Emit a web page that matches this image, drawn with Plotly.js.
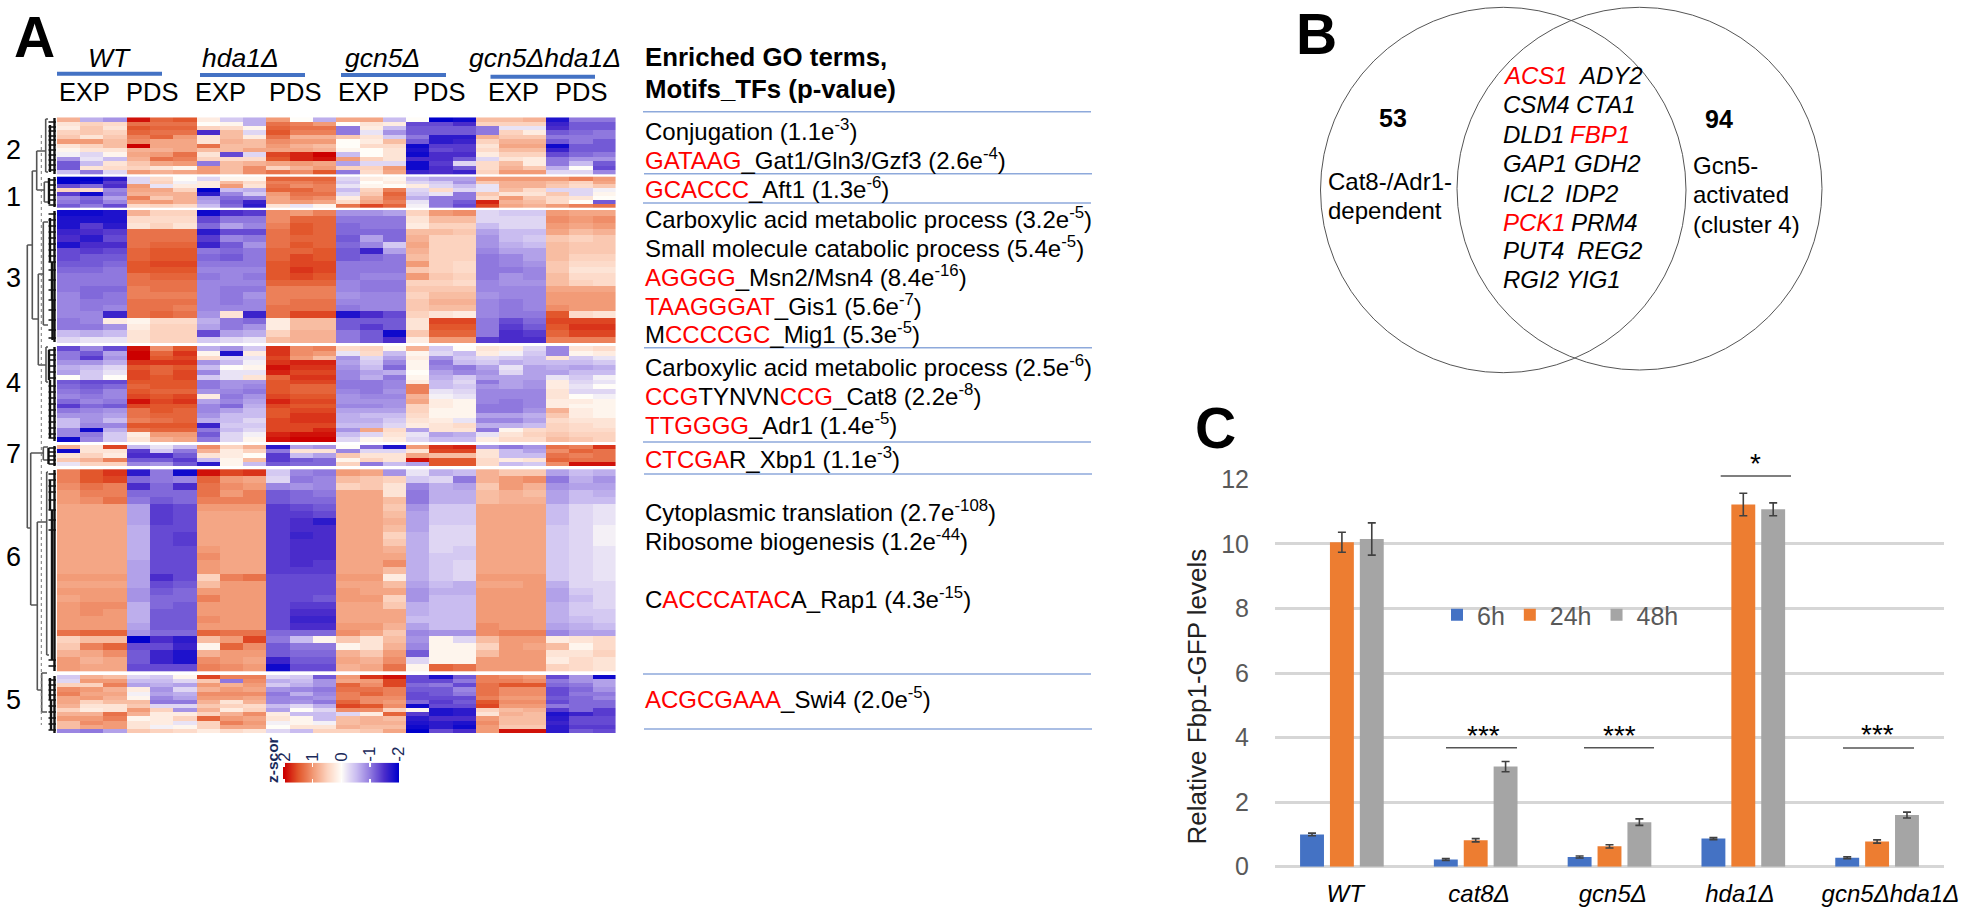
<!DOCTYPE html>
<html><head><meta charset="utf-8">
<script src="https://cdn.plot.ly/plotly-3.0.1.min.js"></script>
<style>html,body{margin:0;padding:0;background:#fff;overflow:hidden}#g{width:1965px;height:908px}</style>
</head><body><div id="g"></div>
<script>
// ---------- Panel C data ----------
const categories = ['WT','cat8Δ','gcn5Δ','hda1Δ','gcn5Δhda1Δ'];
const categoryLabels = ['\u00a0WT','\u00a0cat8Δ','\u00a0gcn5Δ','hda1Δ\u00a0','\u00a0\u00a0\u00a0\u00a0gcn5Δhda1Δ'];
const h6  = [1.0,0.22,0.30,0.87,0.28];
const h24 = [10.05,0.82,0.63,11.22,0.78];
const h48 = [10.15,3.10,1.38,11.07,1.60];
const h6err  = [0.04,0.03,0.03,0.03,0.03];
const h24err = [0.31,0.05,0.05,0.35,0.05];
const h48err = [0.50,0.16,0.10,0.20,0.09];

// ---------- Panel A heatmap data: z-scores by cluster, 24 columns ----------
const columns = ['WT EXP1','WT EXP2','WT EXP3','WT PDS1','WT PDS2','WT PDS3','hda1 EXP1','hda1 EXP2','hda1 EXP3','hda1 PDS1','hda1 PDS2','hda1 PDS3','gcn5 EXP1','gcn5 EXP2','gcn5 EXP3','gcn5 PDS1','gcn5 PDS2','gcn5 PDS3','dbl EXP1','dbl EXP2','dbl EXP3','dbl PDS1','dbl PDS2','dbl PDS3'];
const cluster2 = [
[.8,-.6,-.8,1.9,1.4,1.5,.2,-.4,-.6,1,0,-.6,.9,.9,-.5,0,-2,-1.9,.7,.7,.8,-1.8,-1,-1],
[.3,.5,.4,1.3,1.3,1.3,0,.1,-.6,1.3,1.2,1,0,.3,.2,-1.3,-1.3,-1.5,.5,.5,.5,-1.6,-1.2,-1.2],
[.2,.6,.3,1.5,1.4,1.4,.5,.4,.1,1.4,1.3,1.3,-1,.2,-.5,-1.2,-1.2,-1.2,-1,-.2,-.2,-1.5,-1.2,-1.2],
[.5,.6,.5,1.4,1.3,1.3,-1.5,.7,-.3,1.5,1.2,1.2,-1,-.2,-.8,-1.2,-1.2,-1.2,-1,.5,.2,-1.2,-1.1,-1],
[.6,.3,.6,1.2,1.4,1,.3,.7,.2,1.3,.8,.8,.6,.3,-.4,-1,-1.7,-1.7,.8,.6,.6,-1,-1,-1],
[1,1,.7,1.1,.9,.9,.3,.8,.7,1.1,1,1,0,.2,.7,-1.2,-1.7,-1.6,.5,.8,.8,-1.2,-1,-1.2],
[.3,.5,.7,2,.9,.9,1.3,.7,.7,1,.8,.7,0,.4,.4,-1.9,-1.4,-1.4,.3,.9,.9,-1.9,-1.2,-1.2],
[.1,.3,.3,.8,.8,.9,.7,.7,.9,.9,.9,.8,.1,0,.3,-1.8,-1.3,-1.4,.4,.7,.7,-1.6,-1.2,-1.2],
[-.1,-.3,.1,.9,1,1.3,.3,-1.3,-.3,1.6,1.8,2,-.5,0,.3,-1.9,-1.5,-1.5,.2,.5,.5,-1.3,-1.1,-1],
[-.8,-.2,-.5,.8,1.3,1.2,.5,.4,.4,1.5,1.8,1.9,1,.5,.3,-1.5,-1.5,-1.2,-.3,.3,.2,-1,-.8,-.8],
[-1.2,-.5,.3,.6,.9,1,-1,.7,.8,.9,1,.9,-.7,-.3,-.3,-1.9,-1.4,-.3,.4,.7,.2,-1,-.5,-1.2],
[-1.2,.3,.4,.5,.3,.1,1,.7,1.1,.5,.8,1,.5,.5,1,-1.9,-1.5,-1.2,.4,.8,.6,-.6,0,-1.3],
[-.5,-1,-.3,1,.8,.9,1,.7,1.1,1.3,1.1,1.5,-1,.4,.9,-1.6,-1.5,-1.6,.5,1,1,-.3,-.3,-.9]];
const cluster1 = [
[-2,-2,-1.7,-.3,.4,0,-.3,.1,.1,1.4,1.4,1.4,-.3,.2,.1,-.5,-.7,-.7,1,1,1,1,1.2,1],
[-2,-1.9,-1.4,-.3,.5,-.1,.2,.7,.4,1.2,1.2,1.3,-.4,0,.2,-.3,-.4,-.8,.6,.8,.8,.7,.5,.9],
[-1.3,-1.1,-1.5,1,-.2,.2,.2,1,.3,1.3,1.1,1.2,-.2,.1,0,.2,-.3,-.5,-.2,.8,.8,.6,.4,.6],
[.5,.4,-.9,.9,.9,.5,-2,-.5,-.6,1.4,1.4,1.2,-.5,.5,1.2,-.3,.4,-.3,-.2,.7,.4,-.3,-.3,-.1],
[-1.4,-1.9,-1,.8,.8,.8,-1.7,-.9,-.4,1,1.3,1.3,-.3,.6,1.4,-.4,-.2,-1,.6,.3,.3,.6,-.3,.1],
[-.9,-1.1,-.7,1.2,.6,.8,-.8,-1.1,-1,.9,1.2,1.1,.2,.8,1.3,-.6,-1,-1,.4,1,.6,.4,.3,0],
[-1,-1.2,-.9,.9,1,.8,-.7,-1.2,-1.6,.9,1,.9,.4,.9,1.2,-.2,-1,-1.2,1.8,.8,.7,.4,0,-1.2],
[-1.2,-1,-1.3,.4,.5,.4,-.5,-1.1,-1.7,.3,-.2,.1,1.3,1.6,1.4,-.1,-1,-1.3,1.6,.9,.8,1,1.2,1.3]];
const cluster3 = [
[-1.9,-1.9,-1.8,.8,.5,.5,-1.9,-1.5,-1.4,1.1,1,1.2,-.8,-.8,-.7,.5,1,1.1,-.3,-.4,-.4,1,.9,.9],
[-1.8,-1.8,-1.8,.4,.4,.4,-1.3,-1,-1,1.1,1.4,1.4,-1,-1,-1,.3,.7,.7,-.3,-.3,-.3,1.1,1,1.1],
[-1.8,-1.4,-1.7,.3,.5,.3,-1.1,-.7,-.9,1.2,1.5,1.4,-1.1,-1,-1,.2,.5,.5,-.5,-.3,-.3,1,.9,1],
[-1.6,-1.5,-1.4,1.3,1.3,1.3,-1.7,-1.3,-1.3,1.3,1.5,1.4,-1.1,-1.1,-1.1,.7,.7,.6,-.7,-.5,-.5,.9,.7,.8],
[-1.5,-1.7,-1.3,1.3,1.3,1.3,-1.4,-.9,-1,1.3,1.4,1.4,-1.2,-.7,-1.1,.8,.5,.5,-.8,-.5,-.4,.6,.5,.6],
[-1.8,-1.5,-1.5,1.3,1.4,1.4,-1.6,-1.2,-.8,1.3,1.5,1.4,-1.1,-.9,-.4,.9,.5,.5,-.8,-.6,-.5,.7,.6,.6],
[-1.3,-1.4,-1.3,1.4,1.5,1.5,-1,-1.1,-1,1.4,1.4,1.5,-1.2,-1.6,-.7,.8,.5,.5,-.9,-.7,-.7,.7,.6,.6],
[-1.3,-1.2,-1.2,1.4,1.5,1.5,-1.1,-1.2,-1,1.4,1.6,1.5,-1.2,-1.1,-1,.7,.5,.5,-1,-.9,-.7,.7,.5,.5],
[-1.2,-1.2,-1.1,1.5,1.6,1.6,-1,-1,-1,1.5,1.6,1.6,-1,-1,-1,1,.5,.4,-1,-.9,-.8,.6,.4,.4],
[-1.1,-1.1,-1,1.5,1.5,1.5,-.9,-.9,-.9,1.5,1.7,1.6,-1,-1,-1,.6,.5,.4,-1,-1,-.9,.6,.3,.3],
[-1,-1,-1,1.3,1.4,1.4,-1,-.9,-1,1.5,1.6,1.5,-1,-.9,-.9,1,.6,.5,-1,-.8,-.9,.7,.4,.4],
[-1,-1,-1,1.3,1.3,1.3,-.9,-.9,-.9,1.4,1.4,1.4,-.9,-1,-1,.5,.5,.4,-.9,-.8,-.8,.7,.5,.4],
[-1,-1.1,-1.1,1.2,1.3,1.3,-.9,-1,-1,1.2,1.2,1.2,-.9,-1,-1,.6,.6,.6,-.9,-.9,-.9,.9,.9,.9],
[-.9,-1.1,-1,1.2,1.2,1.2,-.9,-1,-.8,1.2,1.2,1.2,-.8,-.9,-.9,.5,.7,.7,-.8,-.9,-.9,1,1,1],
[-.9,-1,-1,1.3,1.3,1.3,-.9,-1,-.9,1.2,1.3,1.3,-.9,-.9,-.9,.6,.8,.8,-.9,-1,-.9,1,1,1],
[-.9,-1,-.9,1.3,1.3,1.2,-.9,-.9,-.9,1.3,1.3,1.3,-1,-.9,-.9,.6,.7,.7,-.9,-1,-.9,1.1,1,1],
[-.9,-.9,-1.6,1.3,1.4,1.3,-.8,.3,-1.6,1.3,1.6,1.6,-1.8,-1.5,-1.3,.5,.3,.2,-.9,-1,-1,1.5,.4,.3],
[-1,-.9,.2,.1,.4,.4,-.6,-1,-1.1,.2,.7,.7,-1.2,-1.2,-1.2,.3,1.6,1.6,-1,-1.3,-1.1,1.6,1.6,1.6],
[-1,-1,-.8,.2,.5,.5,-.7,-1,-.8,.2,.7,.7,-1.2,-1.4,-1.2,.3,1.5,1.5,-1,-1.4,-1.2,1.5,1.7,1.7],
[-.5,-.6,-.5,.3,.5,.5,-1.3,-.7,-.6,.5,.8,.8,-1,-1.2,-1.9,.6,1.4,1.4,-1,-1.5,-1.4,1.4,1.6,1.6],
[-.3,-.2,-.2,.3,.5,.5,-.4,-.3,-.2,.7,.8,.8,-1,-1.2,-1.5,.2,1,1,-1.4,-1.5,-1.5,1.2,1.2,1.2]];
const cluster4 = [
[-1.3,-.9,-1.3,1.9,1.1,1.5,-.6,-.8,-.4,1.7,1.1,1.2,.4,.5,.1,.8,-.4,0,.3,.2,-.3,-.9,.3,.4],
[-1,-1.2,-.7,2,1.4,1.7,.1,-1.8,.2,1.7,1.1,1,-.2,.4,-.5,.1,-.3,-.5,.2,-.1,-.4,-.9,.1,.2],
[-1,-1.4,-.8,2,1.5,1.6,.4,-.3,-.2,1.6,1,.7,-.8,-.3,-.7,.2,-.8,-.4,-.3,-.4,-.5,.3,-.4,-.2],
[-.8,-.8,-.6,1.7,1.7,1.7,-.8,-.5,-.1,1.7,1.8,1.8,-.7,-.4,-.9,.1,-1,-.5,-.4,-.6,-.5,-.5,-.5,-.4],
[-.6,-.5,-.3,1.5,1.4,1.5,-.5,0,.1,1.9,1.7,1.7,-.8,-.5,-1.1,.1,-.9,-1,-.7,-.2,-.7,-.6,-.7,-.6],
[-.7,-.4,-.2,1.6,1.4,1.6,-.9,-.2,-.2,1.8,1.6,1.6,-.9,-.7,-.6,0,-.7,-.9,-.8,-.3,-.7,-.7,-.5,-.5],
[0,-.4,0,1.6,1.5,1.6,-.4,-.2,.3,1.4,1.7,1.7,-.9,-.6,-1,.1,-.6,-.4,-.7,-.7,-.7,-.2,-.4,-.1],
[-1.2,-1.3,-1.3,1.5,1.5,1.5,-1,-.8,-.8,1.5,1.6,1.6,-1,-1,-.9,.2,-.5,-.3,-1,-.7,-.8,.2,-.3,-.2],
[-1.1,-1.2,-1.1,1.4,1.5,1.5,-1,-.8,-.9,1.5,1.4,1.4,-1,-1,-.9,1.2,-.5,-.4,-.8,-.7,-.8,.2,-.2,0],
[-1,-1.1,-.9,1.5,1.4,1.4,-.8,-.9,-1,1.5,1.4,1.4,-.9,-1,-.8,1.2,-.2,-.3,-.9,-.9,-.9,.3,-.3,-.3],
[-.9,-1,-.9,1.6,1.5,1.6,.2,-1,-.8,1.6,1.5,1.5,-.8,-.9,-.9,.8,-.1,-.2,-.9,-.9,-.9,.3,0,-.1],
[-1.1,-.9,-1,1.9,1.6,1.7,-.7,-.9,-.7,1.8,1.6,1.6,-.8,-.8,-.8,.9,.2,.1,-.9,-1,-.9,.2,.2,.1],
[-1.4,-1.1,-1.2,1.6,1.5,1.5,-.9,-1.1,-.6,1.6,1.5,1.5,-.9,-.9,-.8,.5,.2,.1,-1,-1,-.9,.2,.1,.1],
[-1,-.9,-.8,1.3,1.5,1.4,-.9,-.7,-.5,1.5,1.6,1.6,-.7,-.7,-.7,.5,.1,.1,-1,-1,-.8,.8,.2,.1],
[-.8,-.8,-.7,1.3,1.4,1.4,-.8,-.5,-.5,1.5,1.7,1.7,-.6,-.5,-.5,.4,.1,.1,-.7,-.7,-.6,.6,.2,.1],
[-.5,-.8,-.5,1.2,1.3,1.4,-.6,-.5,-.3,1.6,1.7,1.7,-.6,-.6,-.4,.3,.2,-.2,-.9,-.9,-.7,.4,.3,.3],
[-.5,-.9,-.9,1.5,1.5,1.5,-1.6,-.4,-.4,1.6,1.6,1.6,-.5,-.5,-.3,.2,.3,.4,-.6,-.6,-.5,.5,.4,.3],
[-.9,-1.9,-.6,1.3,1.4,1.4,-1,-.5,-.3,1.6,1.6,1.8,-.8,.9,.4,-.7,.3,.3,-1,.1,.4,.5,.4,.4],
[-.9,-1,-.4,.2,1,1,-1.2,-.3,-.1,1.8,1.9,1.9,-.5,-.3,.3,-.2,-.7,-.6,-.2,.3,.5,.6,.5,.5],
[-1.9,-.9,-.4,.3,.8,.9,-1,-.3,.1,1.9,2,2,-.3,.1,.2,-.3,-.5,-.5,.2,.4,.4,.7,.6,.5]];
const cluster7 = [
[.8,.3,1.6,-.5,-.2,-.5,1.1,.5,.8,-1.7,-.7,-.8,0,-1.1,-1.8,1,1.7,1.8,-.8,-1,-.8,1.3,1.2,1.7],
[-1.9,.3,.3,-1.4,-.4,-1,.8,.2,.5,-1,.3,.3,-.9,-.3,-.3,.3,1.6,1.6,.3,-.5,-.7,1.1,1.4,1.3],
[.3,.5,.2,-1.5,-1.5,-1.2,.3,.2,0,-1.4,-.5,-.7,.6,.3,.3,.9,.7,.7,.3,-.5,-.5,1.3,1.2,1.3],
[.6,.8,1.2,-1.2,-1.2,-1.4,-.5,.1,.7,-1.4,-1.2,-1.1,.1,.5,.3,1.9,1.5,1.5,.4,.2,.3,1.4,1.3,1.3],
[-.2,.5,.5,-.9,-.8,-1.2,-1.7,.1,-.5,-1.2,-1.1,-1.1,.5,-1,-.5,-.7,1.5,1.5,.4,-.5,-.4,1.1,1.9,1.9]];
const cluster6 = [
[1.2,1.5,1.7,-1.7,-1,-1.9,1.9,1.6,1.7,-.4,-.9,-1,1,.9,-.8,-.2,-.6,-.5,.8,.6,.6,-.7,-.5,-.6],
[1.2,1.5,1.6,-1.1,-1,-.9,1.4,1,.9,-.3,-1,-.9,.7,.6,.5,-.4,-.3,-1,.8,1,1.1,-1,-.6,-.8],
[1.1,1.3,1.2,-1.5,-1.1,-1.5,1.3,1.1,1,-.9,-.8,-.9,.5,.6,.3,-.9,-.6,-.7,.6,1,.8,-.8,-.7,-.7],
[1,1.2,1.2,-1.1,-1.1,-1.1,1.3,1,1.2,-1.2,-1.1,-1,.9,.9,.3,-1,-.6,-.6,.7,.8,.7,-.7,-.5,-.6],
[1,1.1,1.3,-1,-1.2,-1.1,1.2,1.2,1.2,-1.2,-1.1,-1.1,.9,.9,.7,-1,-.6,-.6,.7,.8,.8,-.7,-.5,-.5],
[.9,.9,.9,-.7,-1.4,-1.3,1,1,1,-1.4,-1.3,-1.2,.9,.9,.6,-.8,-.4,-.4,.9,.9,.9,-.5,-.3,-.2],
[.9,.9,.9,-.7,-1.4,-1.3,.9,.9,.9,-1.4,-1.4,-1.3,.9,.9,.7,-.7,-.4,-.4,.9,.9,.9,-.5,-.3,-.2],
[.9,.9,.9,-.7,-1.4,-1.3,.9,.9,.9,-1.4,-1.5,-1.7,.9,.9,.8,-.7,-.4,-.4,.9,.9,.9,-.5,-.3,-.2],
[.9,.9,.9,-.6,-1.3,-1.3,.9,.9,.9,-1.4,-1.5,-1.5,.9,.9,.7,-.7,-.3,-.3,.9,.9,.9,-.4,-.3,-.1],
[.9,.9,.9,-.6,-1.3,-1.4,.9,.9,.9,-1.4,-1.6,-1.5,.9,.9,.5,-.6,-.3,-.3,.9,.9,.9,-.4,-.3,-.1],
[.9,.9,.9,-.6,-1.3,-1.4,.9,.9,.9,-1.4,-1.5,-1.5,.9,.9,.6,-.6,-.3,-.3,.9,.9,.9,-.4,-.3,-.1],
[.9,.9,.9,-.6,-1.3,-1.3,1,.9,.9,-1.4,-1.5,-1.5,.9,.9,.8,-.6,-.3,-.4,.9,.9,.9,-.4,-.3,-.2],
[.9,.9,.9,-.6,-1.3,-1.3,1.1,.9,.9,-1.4,-1.5,-1.5,.9,.9,.9,-.6,-.4,-.4,.9,.9,.9,-.4,-.3,-.2],
[.9,.9,.9,-.7,-1.3,-1.3,1,.9,.9,-1.4,-1.5,-1.4,.9,.9,1.1,-.6,-.4,-.3,.9,.9,.9,-.4,-.3,-.2],
[.9,.9,.9,-.7,-1.3,-1.3,1,.9,.9,-1.4,-1.4,-1.4,.9,.9,.7,-.6,-.4,-.3,.9,.9,.9,-.4,-.3,-.2],
[1,1,1,-.7,-1.5,-1.3,.5,1.2,1.3,-1.3,-1.3,-1.3,1,1,.2,-.6,-.4,-.3,1,1,1,-.4,-.3,-.2],
[.9,.9,.9,-.7,-1.3,-1.2,.7,1,1,-1.3,-1.3,-1.3,.9,.9,.7,-.7,-.5,-.6,.9,.9,1,-.6,-.3,-.3],
[1,1,1,-.8,-1.2,-1.1,1,1,1,-1.3,-1.3,-1.3,1,.9,.9,-.8,-.6,-.6,1,1,1,-.7,-.4,-.3],
[.9,1,1,-.8,-1.1,-1.1,1.2,1,1,-1.3,-1.3,-1.2,1,1,.5,-.8,-.5,-.5,1,1,1,-.7,-.5,-.3],
[1,1.1,1.1,-.6,-1.1,-1.2,1,1,1,-1.3,-1.4,-1.4,.9,.9,.6,-.6,-.5,-.5,1,1,1,-.6,-.4,-.3],
[1,1.1,1,-.6,-1.2,-1.2,1,1,1,-1.3,-1.5,-1.5,.9,.9,.9,-.6,-.5,-.5,1,1,1,-.6,-.4,-.4],
[1,1,1,-.6,-1.2,-1.2,1.1,1,1,-1.3,-1.6,-1.6,.9,.9,.9,-.5,-.5,-.5,1,1,1,-.6,-.5,-.4],
[1,1,1,-.7,-1.2,-1.2,1,1,1,-1.3,-1.5,-1.5,1,1,.8,-.7,-.5,-.5,1.1,1,1,-.7,-.6,-.5],
[1.3,1.4,1.4,-.8,-1.1,-1.1,1.4,1.3,1.3,-1.1,-1.1,-1.1,1.1,.9,.6,-.9,-.8,-.8,1.1,1.2,1.2,-.9,-.7,-.7],
[.5,.7,.7,-2,-1.5,-1.7,.7,1,1.6,-1,-.5,.1,.6,.3,.7,-.8,.1,-.3,.7,1,1,.2,.3,.4],
[.6,1.2,1.4,-1.3,-1.3,-1.6,.1,1.4,1.1,-1.2,-1,-1,.1,.3,.8,-.9,.1,.1,.5,1,.9,.7,.1,.4],
[.8,.9,1.1,-1.2,-1.6,-1.8,.8,1,1,-1.2,-1.1,-1.1,.8,.6,1,-1.2,.1,.1,.7,1,1,.3,.3,.5],
[1,.8,.9,-1.2,-1.6,-1.8,1.1,1,.9,-1.6,-1.2,-1.2,.9,.8,1.1,-.3,.1,.1,1,1,1,.2,.4,.3],
[1,.9,.9,-1.3,-1.3,-1.3,1.2,1.1,1,-1.9,-1.3,-1.3,.8,.9,1.3,.1,1.4,1.3,1,1,1,.5,.4,.3]];
const cluster5 = [
[-.4,.8,.7,-.3,-.4,.1,1.6,1.2,1.2,-.3,-.4,-1.2,1,1.7,1.9,-1.3,-1.8,-1.2,1.2,1.1,1,-1.3,-.8,-1.9],
[-.3,1,1,-.5,-.5,-.3,.6,-1,1.1,-.6,-.5,-.8,.9,1,1.6,-1.3,-1.3,-1,1.2,1.2,1.1,-1,-.8,-.7],
[.5,.5,1.2,-.7,-.6,-.7,1,.8,1,-.4,-.6,-.8,1.4,1.1,1.6,-1.1,-1,-1.3,1.3,1.5,1.5,-1.1,-1,-.7],
[1.1,1,.8,.2,-.8,-.3,.8,1,.9,-.8,-.9,-1,1.3,1.3,1.2,-1.2,-1.2,-.9,1.3,1.1,1.1,-1.3,-1.1,-.8],
[1.2,.9,.9,-.1,-.7,-.6,1.1,1.1,1.1,-1,-.6,-.9,1.2,1.4,1.2,-1.3,-1.2,-1,1.3,1.1,1.1,-1.3,-1,-1],
[.9,1,.8,.1,-.9,-.7,1,1,.9,-.9,-.9,-.8,1.2,1.1,1.1,-1.3,-1.3,-1.3,1.2,1,1,-1.2,-1.1,-.9],
[.9,.5,.7,.7,-1,-1,.8,.3,.8,-.9,-.8,-1,1.4,1.1,1,-1.1,-1.4,-1.2,1.5,1.1,1.1,-1.3,-1.1,-1.1],
[.8,.3,.3,.6,-.3,-.3,.6,.5,.4,-.5,-.3,-.6,1.6,1.5,1.1,-1.9,-1.3,-1.3,1.6,1,1,-1,-1.1,-1.1],
[.5,.2,.3,1,.5,-.8,.8,.2,.5,-.7,0,-.3,1.1,1.1,.5,.1,-1.8,-1.7,.5,.7,.8,-1.4,-1.1,-1.4],
[.8,.8,1.3,.8,.2,.2,.5,.8,1.1,.2,-.5,-.5,-.3,.2,1.4,-1.4,-1.8,-1.7,.3,.8,.7,-1.8,-1.6,-1.4],
[1,1,1.2,.1,.2,.5,1.4,1,.9,.3,.1,-.5,.7,.8,.7,-1.7,-1.5,-1.5,1,.7,.7,-1.7,-1.3,-1.3],
[.7,1.1,1,.3,.2,-.2,.5,1.2,1,-.1,.1,-.1,.7,.8,.8,-1.8,-1.7,-1.8,1.1,.7,.7,-1.6,-1.3,-1.3],
[.7,.9,1,.3,-.1,.1,.5,.9,.9,0,.3,.3,.8,.7,.7,-1.9,-1.7,-1.9,1,.6,.6,-1.7,-1.4,-1.4],
[-.9,-1,-.7,.6,.5,.4,.2,.4,.3,-.3,-.5,.5,.5,.6,.9,-2,-1.3,-1.5,1,1.9,1.9,-1.7,-1.2,-1.3]];
const clusterRows = [cluster2,cluster1,cluster3,cluster4,cluster7,cluster6,cluster5];
const clusterNames = ['2','1','3','4','7','6','5'];
const clusterTops = [117.3,176.7,210,346,445,469.3,675];
const clusterBottoms = [174,207.3,342.7,441.7,466,671,733.3];
const clusterLabelY = [150,197,278,383,454,557,700];
const colorbarLevels = [2,1.75,1.5,1.25,1,.75,.5,.25,0,-.25,-.5,-.75,-1,-1.25,-1.5,-1.75,-2];
const colorbarTicks = [2,1,0,-1,-2];

// ---------- Dendrogram segments: [x1,y1,x2,y2] ----------
const dendroSegments = [
[27.3,245,27.3,528],[27.3,245,32.3,245],[32.3,171,32.3,319],[32.3,171,36.7,171],[36.7,151,36.7,190],
[36.7,151,45.7,151],[45.7,119,45.7,172],[36.7,190,44.3,190],[44.3,182,44.3,202],
[32.3,319,38.3,319],[38.3,274,38.3,365],[38.3,274,43.3,274],[43.3,222,43.3,325],[38.3,365,46,365],[46,347,46,382],
[27.3,528,30.7,528],[30.7,453,30.7,605],[30.7,453,43.3,453],[43.3,447,43.3,460],
[30.7,605,37.3,605],[37.3,522,37.3,690],[37.3,522,46.7,522],[46.7,472,46.7,655],[37.3,690,41.7,690],[41.7,673,41.7,712],
[44.3,182,48,182],[44.3,202,48,202],[43.3,222,48,222],[43.3,325,48,325],[46,347,48,347],[46,382,48,382],[43.3,447,48,447],[43.3,460,48,460],[41.7,673,47,673],[41.7,712,47,712],[46.7,472,48,472],[46.7,655,49,655],[45.7,119,48,119],[45.7,172,48,172]];
const dendroStems = [
[54.5,118,54.5,174],[54.5,177,54.5,207],[54.5,211,54.5,342],[54.5,347,54.5,441],[54.5,446,54.5,466],[54.5,470,54.5,671],[54.5,676,54.5,733],
[50,125,50,172],[49,178,49,204],[50,218,50,262],[52,262,52,300],[52.5,300,52.5,340],[49,350,49,380],[50,380,50,438],[48.5,448,48.5,464],[50,480,50,510],[52,510,52,660],[50,678,50,700],[51,700,51,730]];
const dendroLeafY = [122,127,131,136,140,145,150,155,160,165,170,180,185,190,195,200,205,214,220,226,232,238,244,250,256,262,270,280,290,300,310,320,330,338,350,355,360,366,372,378,386,392,398,404,410,416,422,428,434,438,448,452,456,460,464,474,480,486,492,500,510,520,530,660,666,680,685,690,695,700,706,712,718,724,730];

// ---------- Text data ----------
const R = s => '<span style="color:#ff0000">'+s+'</span>';
const goLines = [
 ['Conjugation (1.1e<sup>-3</sup>)',130],
 [R('GATAAG')+'_Gat1/Gln3/Gzf3 (2.6e<sup>-4</sup>)',159],
 [R('GCACCC')+'_Aft1 (1.3e<sup>-6</sup>)',188],
 ['Carboxylic acid metabolic process (3.2e<sup>-5</sup>)',218],
 ['Small molecule catabolic process (5.4e<sup>-5</sup>)',247],
 [R('AGGGG')+'_Msn2/Msn4 (8.4e<sup>-16</sup>)',276],
 [R('TAAGGGAT')+'_Gis1 (5.6e<sup>-7</sup>)',305],
 ['M'+R('CCCCGC')+'_Mig1 (5.3e<sup>-5</sup>)',333],
 ['Carboxylic acid metabolic process (2.5e<sup>-6</sup>)',366],
 [R('CCG')+'TYNVN'+R('CCG')+'_Cat8 (2.2e<sup>-8</sup>)',395],
 [R('TTGGGG')+'_Adr1 (1.4e<sup>-5</sup>)',424],
 [R('CTCGA')+'R_Xbp1 (1.1e<sup>-3</sup>)',457.7],
 ['Cytoplasmic translation (2.7e<sup>-108</sup>)',510.7],
 ['Ribosome biogenesis (1.2e<sup>-44</sup>)',540],
 ['C'+R('ACCCATAC')+'A_Rap1 (4.3e<sup>-15</sup>)',597.7],
 [R('ACGCGAAA')+'_Swi4 (2.0e<sup>-5</sup>)',698]];
const goRules = [111.7,173.7,203,347.7,442,474,674,729];
const strainLabels = [['WT',109,58],['hda1Δ',240,58],['gcn5Δ',382,58],['gcn5Δhda1Δ',545,58]];
const strainBars = [[57,162,73.7],[200,305,75],[341,446,75],[490.5,595,76.7]];
const phaseLabels = [['EXP',84],['PDS',152],['EXP',220],['PDS',295],['EXP',363],['PDS',439],['EXP',513.6],['PDS',581]];
const genesLeft = [[R('ACS1'),76],['CSM4',105],['DLD1',134],['GAP1',164],['ICL2',193],[R('PCK1'),222],['PUT4',251],['RGI2',279]];
const genesRight = [['ADY2',1576.5,76],['CTA1',1575,105],[R('FBP1'),1569,134],['GDH2',1572.6,164],['IDP2',1564,193],['PRM4',1570,222],['REG2',1575.5,251],['YIG1',1565,279]];
const sigMarks = [['*',1755.7,463,1720.7,1791,476],['***',1483,735,1446,1517,747.7],['***',1619,735,1584,1654,747.7],['***',1877,734,1843,1914,748]];

// ---------- Build ----------
const W=1965,H=908, FONT='"Liberation Sans", Arial, sans-serif';
const px=x=>x/W, py=y=>1-y/H;
const colors=[[0,'#0000cc'],[.125,'#4a2ccb'],[.25,'#8f78de'],[.375,'#c9bcf0'],[.5,'#fffdf8'],[.625,'#fcd3bf'],[.75,'#f29b77'],[.875,'#e2572c'],[1,'#cc0000']];
const traces=[];
const mkBar=(name,y,err,c)=>({type:'bar',name,x:categories,y,marker:{color:c},xaxis:'x',yaxis:'y',
  error_y:{type:'data',array:err,visible:true,color:'#404040',thickness:1.6,width:4}});
traces.push(mkBar('6h',h6,h6err,'#4472C4'),mkBar('24h',h24,h24err,'#ED7D31'),mkBar('48h',h48,h48err,'#A5A5A5'));
const colEdges=columns.map((_,i)=>i).concat(24);
clusterRows.forEach((rows,k)=>{
  const t=clusterTops[k],b=clusterBottoms[k];
  const yy=[];for(let i=0;i<=rows.length;i++)yy.push(t+(b-t)*i/rows.length);
  traces.push({type:'heatmap',name:'cluster '+clusterNames[k],x:colEdges,y:yy,z:rows,zmin:-2,zmax:2,colorscale:colors,showscale:false,xaxis:'x2',yaxis:'y2',hoverinfo:'skip'});
});
const seg=(list)=>{const x=[],y=[];list.forEach(s=>{x.push(s[0],s[2],null);y.push(s[1],s[3],null)});return {x,y}};
const leafList=dendroLeafY.map(v=>[48.5,v,56,v]);
traces.push(Object.assign({type:'scatter',mode:'lines',showlegend:false,line:{color:'#555',width:1.6},xaxis:'x3',yaxis:'y2',hoverinfo:'skip'},seg(dendroSegments)));
traces.push({type:'scatter',mode:'lines',showlegend:false,x:[41.3,41.3],y:[135,725],line:{color:'#777',width:1,dash:'dot'},xaxis:'x3',yaxis:'y2',hoverinfo:'skip'});
traces.push(Object.assign({type:'scatter',mode:'lines',showlegend:false,line:{color:'#111',width:1.3},xaxis:'x3',yaxis:'y2',hoverinfo:'skip'},seg(leafList)));
traces.push(Object.assign({type:'scatter',mode:'lines',showlegend:false,line:{color:'#111',width:2.4},xaxis:'x3',yaxis:'y2',hoverinfo:'skip'},seg(dendroStems)));
traces.push({type:'heatmap',x:colorbarLevels,y:[0,1],z:[colorbarLevels,colorbarLevels],zmin:-2,zmax:2,colorscale:colors,zsmooth:'best',showscale:false,xaxis:'x4',yaxis:'y4',hoverinfo:'skip'});

const ann=[];
const T=(text,x,y,size,opt={})=>ann.push(Object.assign({xref:'paper',yref:'paper',x:px(x),y:py(y),text,showarrow:false,xanchor:'left',yanchor:'middle',align:'left',font:{family:FONT,size,color:'#000'},borderpad:0},opt));
[['A',34,37],['B',1316,34],['C',1215,428]].forEach(a=>T('<b>'+a[0]+'</b>',a[1],a[2],57,{xanchor:'center'}));
clusterNames.forEach((n,i)=>T(n,13,clusterLabelY[i],27,{xanchor:'center'}));
strainLabels.forEach(s=>T('<i>'+s[0]+'</i>',s[1],s[2],26.5,{xanchor:'center'}));
phaseLabels.forEach(s=>T(s[0],s[1],92,25.5,{xanchor:'center'}));
T('<b>Enriched GO terms,</b>',643.5,57,25.8);
T('<b>Motifs_TFs (p-value)</b>',643.5,89,25.8);
goLines.forEach(g=>T(g[0],643.5,g[1],24));
T('<b>z-scor</b>',272,760,15.5,{xanchor:'center',textangle:-90,font:{family:FONT,size:15.5,color:'#1a2a5a'}});
T('<b>53</b>',1392.7,118,25,{xanchor:'center'});
T('<b>94</b>',1718.5,119,25,{xanchor:'center'});
T('Cat8-/Adr1-',1327,181.7,24);T('dependent',1327,210.7,24);
T('Gcn5-',1691.7,165,24);T('activated',1691.7,195,24);T('(cluster 4)',1691.7,225,24);
genesLeft.forEach(g=>T('<i>'+g[0]+'</i>',1502,g[1],24));
genesRight.forEach(g=>T('<i>'+g[0]+'</i>',g[1],g[2],24));
sigMarks.forEach(s=>T(s[0],s[1],s[2],28,{xanchor:'center'}));
T('Relative Fbp1-GFP levels',1196,696.5,26,{xanchor:'center',textangle:-90,font:{family:FONT,size:26,color:'#222'}});

const shapes=[];
const L=(x0,x1,y0,y1,c,w)=>shapes.push({type:'line',xref:'paper',yref:'paper',x0:px(x0),x1:px(x1),y0:py(y0),y1:py(y1),line:{color:c,width:w}});
goRules.forEach((y,i)=>L(i%2?644:643,i%2?1092:1091,y,y,'#8ea9db',1.5));
strainBars.forEach(b=>L(b[0],b[1],b[2],b[2],'#4472C4',4));
sigMarks.forEach(s=>L(s[3],s[4],s[5],s[5],'#555',1.5));
[[1320.5,1686,7.3,372.7],[1457,1822,7.3,370]].forEach(c=>shapes.push({type:'circle',xref:'paper',yref:'paper',x0:px(c[0]),x1:px(c[1]),y0:py(c[2]),y1:py(c[3]),line:{color:'#555',width:1},fillcolor:'rgba(0,0,0,0)'}));

const layout={width:W,height:H,margin:{l:0,r:0,t:0,b:0},paper_bgcolor:'#fff',plot_bgcolor:'rgba(0,0,0,0)',
 font:{family:FONT},barmode:'group',bargap:.33,bargroupgap:.2,showlegend:true,
 legend:{orientation:'h',x:px(1437),y:py(615),xanchor:'left',yanchor:'middle',font:{family:FONT,size:25,color:'#595959'},bgcolor:'rgba(0,0,0,0)',itemclick:false},
 xaxis:{domain:[px(1275),px(1944)],anchor:'y',type:'category',tickmode:'array',tickvals:categories,ticktext:categoryLabels,tickfont:{family:FONT,size:24,color:'#000',style:'italic'},ticks:'outside',ticklen:5,tickcolor:'rgba(0,0,0,0)',showline:false,showgrid:false,zeroline:false},
 yaxis:{domain:[py(866.7),py(479.3)],anchor:'x',range:[0,12],tickvals:[0,2,4,6,8,10,12],tickfont:{family:FONT,size:25,color:'#595959'},gridcolor:'#d6d6d6',gridwidth:3,zeroline:true,zerolinecolor:'#d6d6d6',zerolinewidth:3,ticks:'outside',ticklen:20,tickcolor:'rgba(0,0,0,0)',showline:false},
 xaxis2:{domain:[px(56.8),px(615.7)],anchor:'y2',range:[0,24],visible:false},
 yaxis2:{domain:[py(733.3),py(117.3)],anchor:'x2',range:[733.3,117.3],visible:false},
 xaxis3:{domain:[px(20),px(56.8)],anchor:'y2',range:[20,56.8],visible:false},
 xaxis4:{domain:[px(283),px(399)],anchor:'y4',range:[2.04,-2.02],side:'top',tickvals:colorbarTicks,ticktext:colorbarTicks.map(String),tickangle:-90,ticks:'inside',ticklen:4,tickwidth:1.5,tickcolor:'#fff',mirror:'ticks',tickfont:{family:FONT,size:17,color:'#1a2a5a'},showgrid:false,zeroline:false,showline:false},
 yaxis4:{domain:[py(782.7),py(762.7)],anchor:'x4',range:[0,1],visible:false},
 annotations:ann,shapes};
Plotly.newPlot('g',traces,layout,{staticPlot:true,responsive:false});
</script></body></html>
